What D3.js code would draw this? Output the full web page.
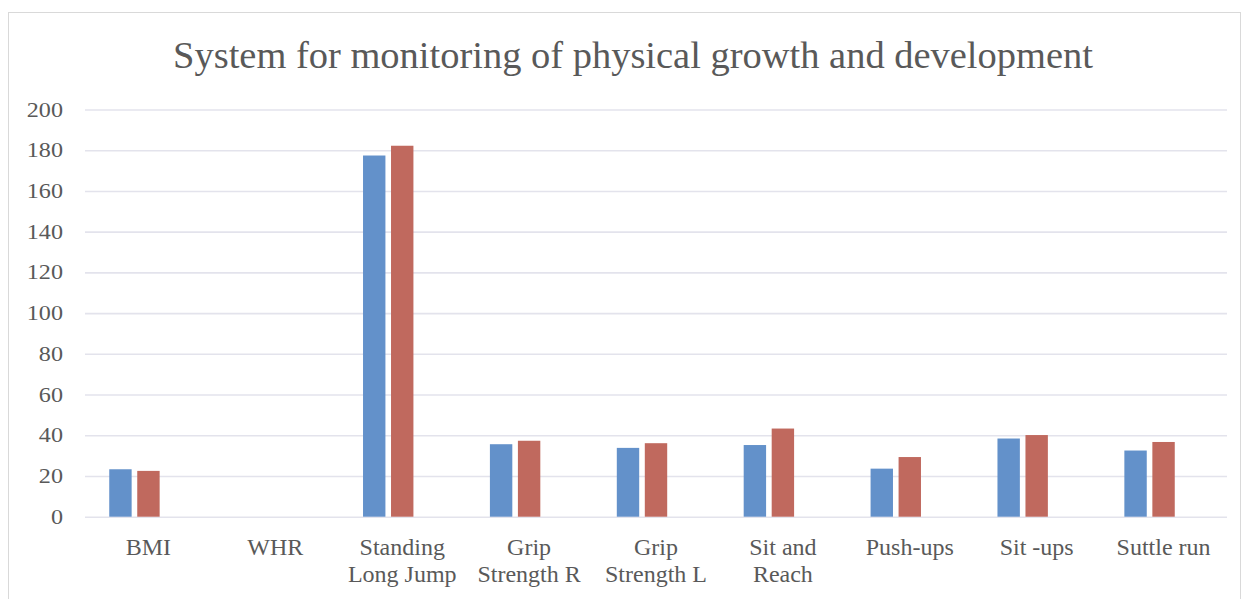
<!DOCTYPE html>
<html>
<head>
<meta charset="utf-8">
<script src="https://cdn.jsdelivr.net/npm/d3@7"></script>
<style>
  html, body { margin: 0; padding: 0; background: #ffffff; }
  svg { display: block; }
</style>
</head>
<body>
<svg id="chart" width="1248" height="599"></svg>
<script>
const title = "System for monitoring of physical growth and development";
const categories = [
  ["BMI"], ["WHR"], ["Standing", "Long Jump"], ["Grip", "Strength R"],
  ["Grip", "Strength L"], ["Sit and", "Reach"], ["Push-ups"], ["Sit -ups"], ["Suttle run"]
];
const seriesA = [23.3, 0, 177.4, 35.6, 33.8, 35.2, 23.6, 38.4, 32.5];
const seriesB = [22.5, 0, 182.2, 37.3, 36.1, 43.3, 29.3, 40.1, 36.7];
const yTicks = [0, 20, 40, 60, 80, 100, 120, 140, 160, 180, 200];
const colors = ["#6391ca", "#c0695e"];

(function () {
const svg = d3.select("#chart");
const font = "'Liberation Serif', 'DejaVu Serif', serif";
const textColor = "#595959";

// chart frame
svg.append("rect")
  .attr("x", 8.5).attr("y", 12.5).attr("width", 1232).attr("height", 620)
  .attr("fill", "#ffffff").attr("stroke", "#d9d9d9").attr("stroke-width", 1);

const pLeft = 85, pRight = 1227, pTop = 109.5, pBottom = 516.7;

const keys = categories.map((c, i) => i);
const x = d3.scaleBand().domain(keys).range([pLeft, pRight]).padding(0);
const bw = x.bandwidth();
const x1 = d3.scaleBand().domain([0, 1, 2])
  .range([bw / 2 - 39.2, bw / 2 + 39.2]).paddingInner(0.2).paddingOuter(0);
const y = d3.scaleLinear().domain([0, 200]).range([pBottom, pTop]);

// title
svg.append("text")
  .attr("transform", "translate(633,68) scale(1.04,1)")
  .attr("text-anchor", "middle")
  .attr("font-family", font).attr("font-size", 37)
  .attr("fill", textColor)
  .text(title);

// gridlines + y tick labels
const yAxis = d3.axisLeft(y).tickValues(yTicks).tickSize(-(pRight - pLeft)).tickFormat("");
const gy = svg.append("g").attr("transform", `translate(${pLeft},0)`).call(yAxis);
gy.select(".domain").remove();
gy.selectAll(".tick line").attr("stroke", "#e3e3ec").attr("stroke-width", 1.6);

svg.append("g").selectAll("text")
  .data(yTicks)
  .join("text")
  .attr("transform", d => `translate(63,${y(d) + 7}) scale(1.15,1)`)
  .attr("text-anchor", "end")
  .attr("font-family", font).attr("font-size", 21)
  .attr("fill", textColor)
  .text(d => d);

// bars
const series = [seriesA, seriesB];
series.forEach((vals, s) => {
  svg.append("g").selectAll("rect")
    .data(vals.map((v, i) => ({ i, v })))
    .join("rect")
    .attr("x", d => x(d.i) + x1(s))
    .attr("width", x1.bandwidth())
    .attr("y", d => y(d.v))
    .attr("height", d => y(0) - y(d.v))
    .attr("fill", colors[s]);
});

// category labels
const xl = svg.append("g");
categories.forEach((lines, i) => {
  const t = xl.append("text")
    .attr("transform", `translate(${x(i) + bw / 2},555)`)
    .attr("text-anchor", "middle")
    .attr("font-family", font).attr("font-size", 24)
    .attr("fill", textColor);
  lines.forEach((ln, j) => {
    t.append("tspan").attr("x", 0).attr("dy", j === 0 ? 0 : 27).text(ln);
  });
});
})();
</script>
</body>
</html>
